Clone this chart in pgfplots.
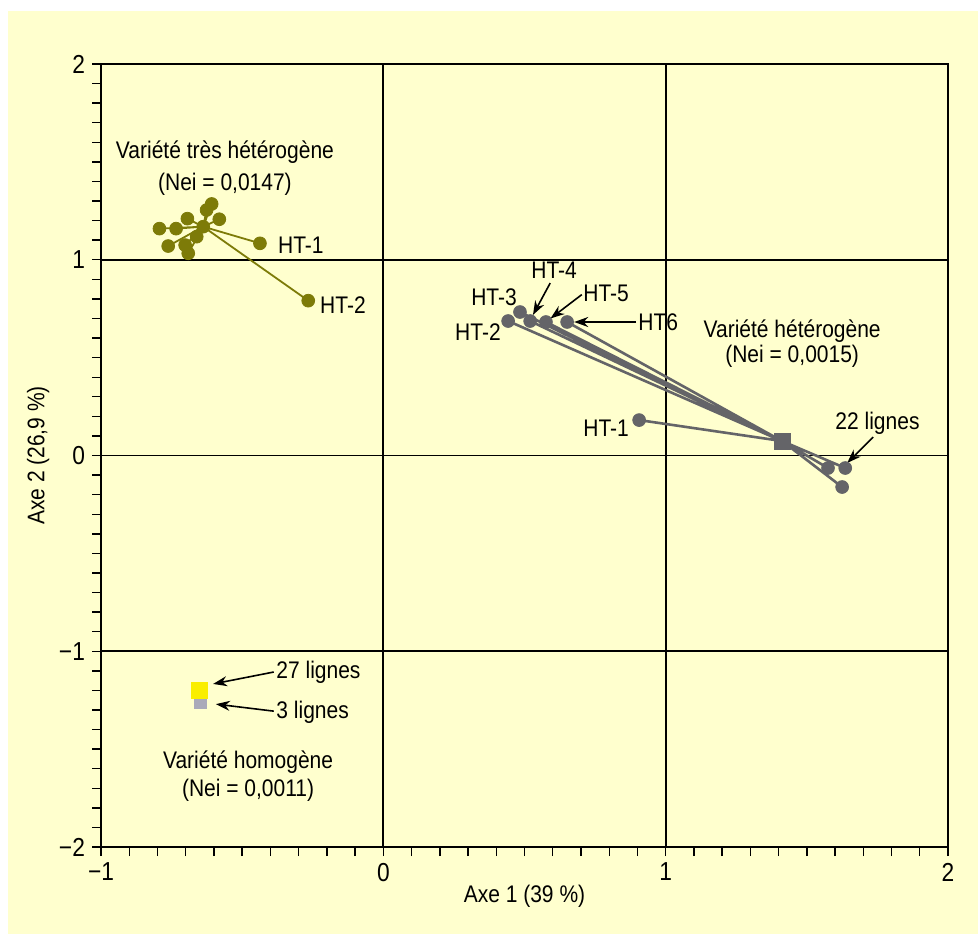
\documentclass[border=0pt]{standalone}
\usepackage{pgfplots}
\pgfplotsset{compat=1.18}
\usepackage{fontspec}
\setmainfont{Liberation Sans}[FakeStretch=0.875]
\usetikzlibrary{arrows.meta}
\definecolor{bgy}{RGB}{255,255,206}
\definecolor{olivec}{RGB}{125,123,8}
\definecolor{greyc}{RGB}{100,100,104}
\definecolor{yelc}{RGB}{250,238,0}
\definecolor{lgrey}{RGB}{170,170,185}
\begin{document}
\begin{tikzpicture}
\path[use as bounding box] (0pt,0pt) rectangle (489pt,467pt);
\fill[bgy] (4pt,0pt) rectangle (489pt,461.5pt);
\begin{axis}[
  at={(50.5pt,43.5pt)}, anchor=south west,
  width=423.5pt, height=391.5pt, scale only axis,
  xmin=-1, xmax=2, ymin=-2, ymax=2,
  xtick={-1,0,1,2}, xticklabels={−1,0,1,2},
  ytick={-2,-1,0,1,2}, yticklabels={−2,−1,0,1,2},
  minor x tick num=9, minor y tick num=9,
  tick align=outside, tick pos=left,
  major tick length=4.5pt, minor tick length=4.5pt,
  every tick/.style={black, line width=0.7pt},
  grid=major, major grid style={black, line width=0.9pt},
  axis line style={black, line width=1.1pt},
  axis background/.style={fill=bgy},
  ticklabel style={font=\fontsize{13}{15}\selectfont},
  xlabel={Axe 1 (39 \%)}, ylabel={Axe 2 (26,9 \%)},
  label style={font=\fontsize{12}{14}\selectfont},
  xlabel style={yshift=5pt},
  ylabel style={yshift=-2pt},
  clip=false,
  unbounded coords=jump,
]
% very heterogeneous variety (olive star)
\addplot[olivec, line width=0.9pt, no marks] coordinates {
(-0.638,1.169) (-0.793,1.159) (nan,nan)
(-0.638,1.169) (-0.734,1.159) (nan,nan)
(-0.638,1.169) (-0.694,1.210) (nan,nan)
(-0.638,1.169) (-0.608,1.285) (nan,nan)
(-0.638,1.169) (-0.626,1.254) (nan,nan)
(-0.638,1.169) (-0.581,1.207) (nan,nan)
(-0.638,1.169) (-0.762,1.070) (nan,nan)
(-0.638,1.169) (-0.702,1.075) (nan,nan)
(-0.638,1.169) (-0.691,1.033) (nan,nan)
(-0.638,1.169) (-0.661,1.118) (nan,nan)
(-0.638,1.169) (-0.437,1.084) (nan,nan)
(-0.638,1.169) (-0.266,0.791)
};
\addplot[only marks, mark=*, mark size=3.2pt, olivec, mark options={fill=olivec, draw=olivec}] coordinates {
(-0.793,1.159) (-0.734,1.159) (-0.694,1.210) (-0.608,1.285) (-0.626,1.254)
(-0.581,1.207) (-0.762,1.070) (-0.702,1.075) (-0.691,1.033) (-0.661,1.118)
(-0.437,1.084) (-0.266,0.791) (-0.638,1.169)
};
% heterogeneous variety (grey tree)
\addplot[greyc, line width=1.3pt, no marks] coordinates {
(1.412,0.074) (0.442,0.687) (nan,nan)
(1.412,0.074) (0.484,0.733) (nan,nan)
(1.412,0.074) (0.520,0.687) (nan,nan)
(1.412,0.074) (0.576,0.682) (nan,nan)
(1.412,0.074) (0.651,0.682) (nan,nan)
(1.412,0.074) (0.906,0.181) (nan,nan)
(1.412,0.074) (1.575,-0.064) (nan,nan)
(1.412,0.074) (1.636,-0.064) (nan,nan)
(1.412,0.074) (1.625,-0.161)
};
\addplot[only marks, mark=*, mark size=3.2pt, greyc, mark options={fill=greyc, draw=greyc}] coordinates {
(0.442,0.687) (0.484,0.733) (0.520,0.687) (0.576,0.682) (0.651,0.682)
(0.906,0.181) (1.575,-0.064) (1.636,-0.064) (1.625,-0.161)
};
\addplot[only marks, mark=square*, mark size=4pt, greyc, mark options={fill=greyc, draw=greyc}] coordinates {(1.412,0.074)};
% homogeneous variety
\addplot[only marks, mark=square*, mark size=3pt, lgrey, mark options={fill=lgrey, draw=lgrey}] coordinates {(-0.649,-1.262)};
\addplot[only marks, mark=square*, mark size=4pt, yelc, mark options={fill=yelc, draw=yelc}] coordinates {(-0.651,-1.198)};
% texts
\begin{scope}[font=\fontsize{12}{14}\selectfont]
\node at (axis cs:-0.561,1.550) {Variété très hétérogène};
\node at (axis cs:-0.561,1.387) {(Nei = 0,0147)};
\node at (axis cs:-0.292,1.075) {HT-1};
\node at (axis cs:-0.143,0.769) {HT-2};
\node at (axis cs:1.448,0.636) {Variété hétérogène};
\node at (axis cs:1.448,0.508) {(Nei = 0,0015)};
\node at (axis cs:0.605,0.948) {HT-4};
\node[anchor=west, inner sep=0pt] at (axis cs:0.707,0.830) {HT-5};
\node[anchor=west, inner sep=0pt] at (axis cs:0.902,0.682) {HT6};
\node at (axis cs:0.392,0.810) {HT-3};
\node at (axis cs:0.335,0.631) {HT-2};
\node at (axis cs:0.789,0.140) {HT-1};
\node[anchor=west, inner sep=0pt] at (axis cs:1.600,0.166) {22 lignes};
\node[anchor=west, inner sep=0pt] at (axis cs:-0.380,-1.106) {27 lignes};
\node[anchor=west, inner sep=0pt] at (axis cs:-0.380,-1.310) {3 lignes};
\node at (axis cs:-0.479,-1.566) {Variété homogène};
\node at (axis cs:-0.479,-1.709) {(Nei = 0,0011)};
\end{scope}
\begin{scope}[black, line width=0.8pt, -{Stealth[length=7pt,width=5pt]}]
\draw (axis cs:0.591,0.881) -- (axis cs:0.530,0.718);
\draw (axis cs:0.703,0.822) -- (axis cs:0.592,0.700);
\draw (axis cs:0.895,0.682) -- (axis cs:0.676,0.682);
\draw (axis cs:1.735,0.094) -- (axis cs:1.643,-0.038);
\draw (axis cs:-0.388,-1.106) -- (axis cs:-0.603,-1.167);
\draw (axis cs:-0.388,-1.306) -- (axis cs:-0.593,-1.270);
\end{scope}
\end{axis}
\end{tikzpicture}
\end{document}
